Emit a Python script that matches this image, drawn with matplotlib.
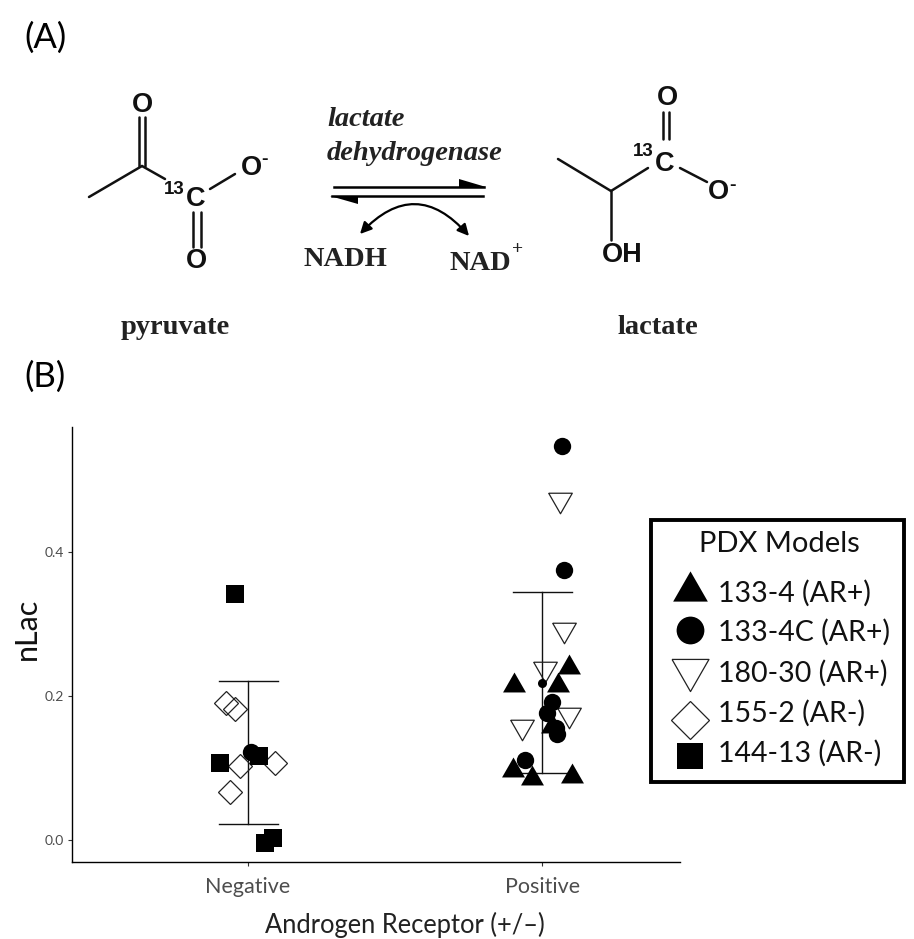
import matplotlib
matplotlib.use("Agg")
import matplotlib.pyplot as plt
from matplotlib.patches import FancyArrowPatch, Rectangle

# values: x is the jittered group position, y is nLac
tri_x = [2.09, 2.054, 1.906, 2.033, 1.902, 1.967, 2.10]
tri_y = [0.245, 0.220, 0.220, 0.162, 0.101, 0.090, 0.093]
circ_x = [1.009, 2.066, 2.073, 2.034, 2.016, 2.052, 2.048, 1.942]
circ_y = [0.122, 0.547, 0.375, 0.191, 0.176, 0.147, 0.155, 0.1115]
small_circ_x = [2.0]
small_circ_y = [0.218]
down_x = [2.06, 2.073, 2.011, 2.092, 1.93]
down_y = [0.468, 0.288, 0.233, 0.169, 0.153]
diam_x = [0.925, 0.956, 0.973, 1.093, 0.939]
diam_y = [0.190, 0.1815, 0.103, 0.107, 0.067]
sq_x = [0.957, 0.904, 1.037, 1.085, 1.057]
sq_y = [0.342, 0.1065, 0.117, 0.003, -0.004]

group_x = [1, 2]
group_labels = ["Negative", "Positive"]
err_low = [0.022, 0.093]
err_high = [0.221, 0.344]
y_ticks = [0.0, 0.2, 0.4]
legend_labels = ["133-4 (AR+)", "133-4C (AR+)", "180-30 (AR+)", "155-2 (AR-)", "144-13 (AR-)"]

UP = [(-1, -0.87), (1, -0.87), (0, 0.87), (-1, -0.87)]
DOWN = [(-1, 0.87), (1, 0.87), (0, -0.87), (-1, 0.87)]
SANS = "Lato"
ARIAL = "Liberation Sans"
TIMES = "Liberation Serif"

fig = plt.figure(figsize=(9.14, 9.39), dpi=100)

# panel B
W, H = 914.0, 939.0
ax = fig.add_axes([72 / W, 1 - 862 / H, 608 / W, 435 / H])
ax.set_xlim(0.401, 2.469)
ax.set_ylim(-0.0306, 0.5736)
for s in ["top", "right"]:
    ax.spines[s].set_visible(False)
for s in ["left", "bottom"]:
    ax.spines[s].set_linewidth(1.0)

for x, lo, hi in zip(group_x, err_low, err_high):
    ax.plot([x, x], [lo, hi], color="#111111", lw=1.0, zorder=2)
    ax.plot([x - 0.1, x + 0.1], [lo, lo], color="#111111", lw=1.0, zorder=2)
    ax.plot([x - 0.1, x + 0.1], [hi, hi], color="#111111", lw=1.0, zorder=2)

ax.plot(down_x, down_y, ls="", marker=DOWN, ms=17, mfc="none", mec="#222222", mew=0.9, zorder=3)
ax.plot(diam_x, diam_y, ls="", marker="D", ms=12, mfc="none", mec="#222222", mew=0.9, zorder=3)
ax.plot(circ_x, circ_y, ls="", marker="o", ms=12.5, color="black", mew=0, zorder=4)
ax.plot(small_circ_x, small_circ_y, ls="", marker="o", ms=6.5, color="black", mew=0, zorder=4)
ax.plot(tri_x, tri_y, ls="", marker=UP, ms=16.5, color="black", mew=0, zorder=4)
ax.plot(sq_x, sq_y, ls="", marker="s", ms=12.5, color="black", mew=0, zorder=5)

ax.set_xticks(group_x)
ax.set_xticklabels(group_labels, fontsize=15.5, color="#4d4d4d", family=SANS)
ax.set_yticks(y_ticks)
ax.set_yticklabels(["%.1f" % v for v in y_ticks], fontsize=10, color="#4d4d4d", family=SANS)
ax.tick_params(length=3, width=0.8, color="#333333", pad=3)
ax.tick_params(axis="x", pad=8)

# overlay in picture pixels for panel A, panel letters and the legend box
ov = fig.add_axes([0, 0, 1, 1], facecolor="none")
ov.set_xlim(0, W)
ov.set_ylim(H, 0)
ov.axis("off")


def label(x, y, s, size, family=SANS, **kw):
    ov.text(x, y, s, fontsize=size, family=family, ha=kw.pop("ha", "center"), va="center", **kw)


label(45, 38, "(A)", 25)
label(45, 377, "(B)", 25)
label(27, 629, "nLac", 22, rotation=90, color="#111111")
label(405, 925, "Androgen Receptor (+/\u2013)", 18.4, color="#222222")

# bonds of the two molecules, as pixel segments
bonds = [
    ((89, 197), (142, 166)), ((142, 166), (165, 179)), ((139, 166), (139, 117)),
    ((145, 166), (145, 117)), ((210, 189), (235, 174)), ((193, 212), (193, 247)),
    ((201, 212), (201, 247)),
    ((558, 159), (611, 191)), ((611, 191), (648, 168)), ((611, 191), (611, 240)),
    ((663, 112), (663, 139)), ((669, 112), (669, 139)), ((680, 168), (707, 182)),
]
for a, b in bonds:
    ov.plot([a[0], b[0]], [a[1], b[1]], color="#111111", lw=1.8, solid_capstyle="round")

for x, y, s in [(142, 105, "O"), (251, 168, "O"), (196, 261, "O"), (667, 98, "O"),
                (718, 192, "O"), (196, 199, "C"), (665, 164, "C"), (622, 255, "OH")]:
    label(x, y, s, 19.5, family=ARIAL, color="#111111", fontweight="bold")
for x, y, s in [(174, 190, "13"), (643, 152, "13")]:
    label(x, y, s, 13.5, family=ARIAL, color="#111111", fontweight="bold")
for x, y in [(265, 159), (733, 185)]:
    label(x, y, "-", 14, family=ARIAL, color="#111111", fontweight="bold")

# equilibrium arrows
ov.plot([334, 484], [187, 187], color="black", lw=1.8)
ov.plot([332, 483], [196, 196], color="black", lw=1.8)
ov.fill([459, 486, 459], [179, 187, 187], color="black", lw=0)
ov.fill([330, 358, 358], [196, 196, 204], color="black", lw=0)
ov.add_patch(FancyArrowPatch((360, 234), (469, 236), connectionstyle="arc3,rad=-0.55",
                             arrowstyle="<|-|>", mutation_scale=17, lw=1.6, color="black",
                             shrinkA=0, shrinkB=0))

label(327, 120, "lactate", 20.5, family=TIMES, style="italic", fontweight="bold", ha="left", color="#222222")
label(327, 154, "dehydrogenase", 20.5, family=TIMES, style="italic", fontweight="bold", ha="left", color="#222222")
label(345, 259, "NADH", 20.5, family=TIMES, fontweight="bold", color="#222222")
label(480, 264, "NAD", 20.5, family=TIMES, fontweight="bold", color="#222222")
label(518, 249, "+", 14, family=TIMES, fontweight="bold", color="#222222")
label(175, 328, "pyruvate", 20.5, family=TIMES, fontweight="bold", color="#222222")
label(658, 327, "lactate", 20.5, family=TIMES, fontweight="bold", color="#222222")

# legend box
ov.add_patch(Rectangle((651, 520), 253, 262, fc="white", ec="black", lw=2.8, zorder=6))
label(779, 544, "PDX Models", 21, color="#111111", zorder=7)
key_y = [586, 630, 675, 720, 756]
text_y = [593, 632, 673, 713, 753]
key_marker = [UP, "o", DOWN, "D", "s"]
key_ms = [25, 20, 26.6, 19.3, 18.5]
key_fill = ["black", "black", "none", "none", "black"]
for yk, yt, s, m, ms, fc in zip(key_y, text_y, legend_labels, key_marker, key_ms, key_fill):
    ov.plot([690], [yk], ls="", marker=m, ms=ms, mfc=fc, mec="black" if fc == "black" else "#222222",
            mew=0 if fc == "black" else 0.9, zorder=7)
    label(718, yt, s, 20.5, ha="left", color="#111111", zorder=7)

fig.savefig("out.png", dpi=100)
